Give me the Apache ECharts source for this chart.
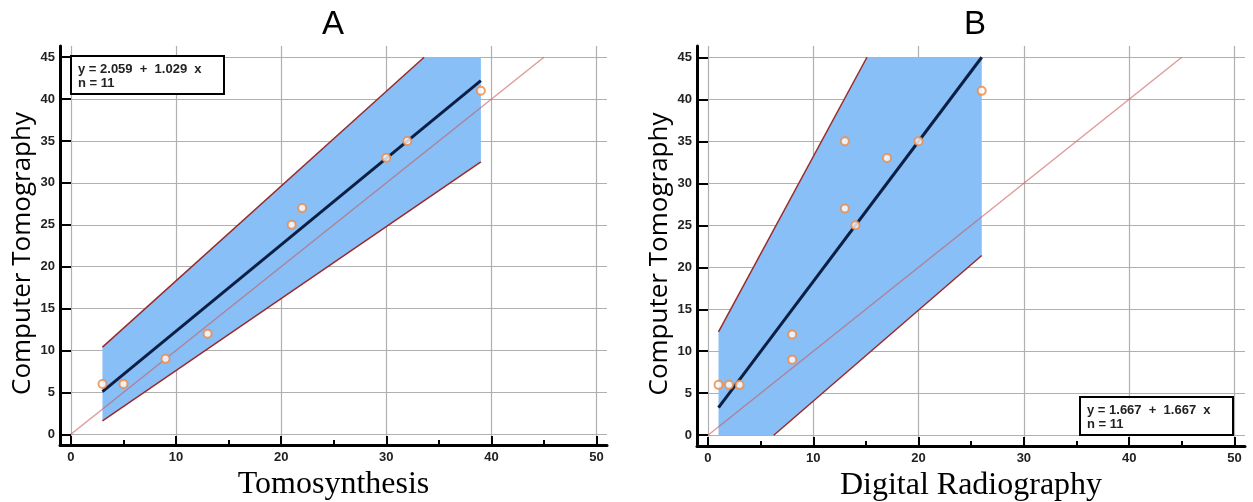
<!DOCTYPE html>
<html>
<head>
<meta charset="utf-8">
<title>CT vs Tomosynthesis / Digital Radiography</title>
<style>
    html, body { margin: 0; padding: 0; background: #fff; }
    #main { width: 1253px; height: 502px; }
</style>
</head>
<body>
<div id="main"></div>
<script src="https://cdn.jsdelivr.net/npm/echarts@6/dist/echarts.min.js"></script>
<script>
    // values
    var xTicks = [0, 10, 20, 30, 40, 50];
    var xMinorTicks = [5, 15, 25, 35, 45];
    var yTicks = [0, 5, 10, 15, 20, 25, 30, 35, 40, 45];

    // panel A : Tomosynthesis vs Computer Tomography
    var tomoPoints = [[3, 6], [5, 6], [9, 9], [13, 12], [21, 25], [22, 27], [30, 33], [32, 35], [39, 41]];
    var tomoFit = [[3, 5.1], [39, 42.2]];
    var tomoUpper = [[3, 10.4], [33.6, 45]];
    var tomoLower = [[3, 1.6], [39, 32.5]];
    var tomoBand = [[3, 1.6], [3, 10.4], [33.6, 45], [39, 45], [39, 32.5]];
    var tomoEq = 'y = 2.059  +  1.029  x\nn = 11';

    // panel B : Digital Radiography vs Computer Tomography
    var drPoints = [[1, 6], [2, 6], [3, 6], [8, 12], [8, 9], [13, 35], [13, 27], [14, 25], [17, 33], [20, 35], [26, 41]];
    var drFit = [[1, 3.3], [26, 45]];
    var drUpper = [[1, 12.3], [15.1, 45]];
    var drLower = [[6.25, 0], [26, 21.4]];
    var drBand = [[1, 0], [1, 12.3], [15.1, 45], [26, 45], [26, 21.4], [6.25, 0]];
    var drEq = 'y = 1.667  +  1.667  x\nn = 11';

    var identity = [[0, 0], [45, 45]];

    var X_MIN = -1.04, X_MAX = 51;
    var Y_MIN = -1.28, Y_MAX = 46.34;

    function xAxisMain(gi, name) {
        return {
            type: 'value', gridIndex: gi, min: X_MIN, max: X_MAX,
            name: name, nameLocation: 'middle', nameGap: 23,
            nameTextStyle: { fontFamily: 'Liberation Serif', fontSize: 32, color: '#000' },
            axisLine: { show: true, onZero: false, lineStyle: { color: '#000', width: 3 } },
            axisTick: { show: true, inside: true, length: 9, customValues: xTicks, lineStyle: { color: '#000', width: 2 } },
            axisLabel: { customValues: xTicks, margin: 6, fontFamily: 'Liberation Sans', fontWeight: 'bold', fontSize: 13, color: '#222' },
            splitLine: { show: true, lineStyle: { color: '#b0b0b0', width: 1.2 } }
        };
    }
    // second x axis only for the short ticks between the labelled ones
    function xAxisMinor(gi, h) {
        return {
            type: 'value', gridIndex: gi, min: X_MIN, max: X_MAX, position: 'top', offset: -h,
            axisLine: { show: false },
            axisTick: { show: true, inside: false, length: 5, customValues: xMinorTicks, lineStyle: { color: '#000', width: 2 } },
            axisLabel: { show: false },
            splitLine: { show: false }
        };
    }
    function yAxisMain(gi, name) {
        return {
            type: 'value', gridIndex: gi, min: Y_MIN, max: Y_MAX,
            name: name, nameLocation: 'middle', nameGap: 24,
            nameTextStyle: { fontFamily: 'Open Sans', fontSize: 26, color: '#000', padding: [0, 16, 0, 0] },
            axisLine: { show: true, onZero: false, lineStyle: { color: '#000', width: 3 } },
            axisTick: { show: true, inside: true, length: 11, customValues: yTicks, lineStyle: { color: '#000', width: 2 } },
            axisLabel: { customValues: yTicks, margin: 5, fontFamily: 'Liberation Sans', fontWeight: 'bold', fontSize: 13, color: '#222' },
            splitLine: { show: true, lineStyle: { color: '#b0b0b0', width: 1.2 } }
        };
    }

    function bandSeries(poly, xi, yi) {
        return {
            type: 'custom', xAxisIndex: xi, yAxisIndex: yi, data: [[0, 0]], silent: true, z: 1,
            renderItem: function (params, api) {
                return {
                    type: 'polygon',
                    shape: { points: poly.map(function (p) { return api.coord(p); }) },
                    style: { fill: '#88bff7' }
                };
            }
        };
    }
    function lineSeries(pts, color, width, xi, yi, z) {
        return {
            type: 'line', xAxisIndex: xi, yAxisIndex: yi, data: pts, symbol: 'none', silent: true, z: z,
            lineStyle: { color: color, width: width }
        };
    }
    function pointSeries(pts, xi, yi) {
        return {
            type: 'scatter', xAxisIndex: xi, yAxisIndex: yi, data: pts, symbol: 'circle', symbolSize: 8, z: 6,
            itemStyle: { color: '#fff', borderColor: '#f0883e', borderWidth: 2 }
        };
    }
    function panelSeries(band, upper, lower, fit, pts, xi, yi) {
        return [
            bandSeries(band, xi, yi),
            lineSeries(upper, '#9b2a2a', 1.5, xi, yi, 3),
            lineSeries(lower, '#9b2a2a', 1.5, xi, yi, 3),
            lineSeries(identity, 'rgba(200,90,90,0.6)', 1.5, xi, yi, 4),
            lineSeries(fit, '#0b1f45', 3, xi, yi, 5),
            pointSeries(pts, xi, yi)
        ];
    }
    function eqBox(x, y, text) {
        return [
            { type: 'rect', x: x, y: y, z: 100, shape: { width: 153, height: 38 }, style: { fill: '#fff', stroke: '#000', lineWidth: 2 } },
            { type: 'text', x: x + 7, y: y + 6, z: 101, style: { text: text, font: 'bold 13px "Liberation Sans"', fill: '#222', lineHeight: 14 } }
        ];
    }

    var myChart = echarts.init(document.getElementById('main'));
    var option = {
        backgroundColor: '#fff',
        animation: false,
        title: [
            { text: 'A', left: 317, top: 3, textStyle: { fontFamily: 'Liberation Sans', fontSize: 33, fontWeight: 'normal', color: '#000' } },
            { text: 'B', left: 959, top: 3, textStyle: { fontFamily: 'Liberation Sans', fontSize: 33, fontWeight: 'normal', color: '#000' } }
        ],
        grid: [
            { left: 60, top: 46, width: 547, height: 399, containLabel: false, outerBoundsMode: 'none' },
            { left: 697, top: 46, width: 548, height: 400, containLabel: false, outerBoundsMode: 'none' }
        ],
        xAxis: [
            xAxisMain(0, 'Tomosynthesis'),
            xAxisMinor(0, 399),
            xAxisMain(1, 'Digital Radiography'),
            xAxisMinor(1, 400)
        ],
        yAxis: [
            yAxisMain(0, 'Computer Tomography'),
            yAxisMain(1, 'Computer Tomography')
        ],
        series: [].concat(
            panelSeries(tomoBand, tomoUpper, tomoLower, tomoFit, tomoPoints, 0, 0),
            panelSeries(drBand, drUpper, drLower, drFit, drPoints, 2, 1)
        ),
        graphic: [].concat(eqBox(71, 56, tomoEq), eqBox(1080, 397, drEq))
    };
    myChart.setOption(option);
</script>
</body>
</html>
